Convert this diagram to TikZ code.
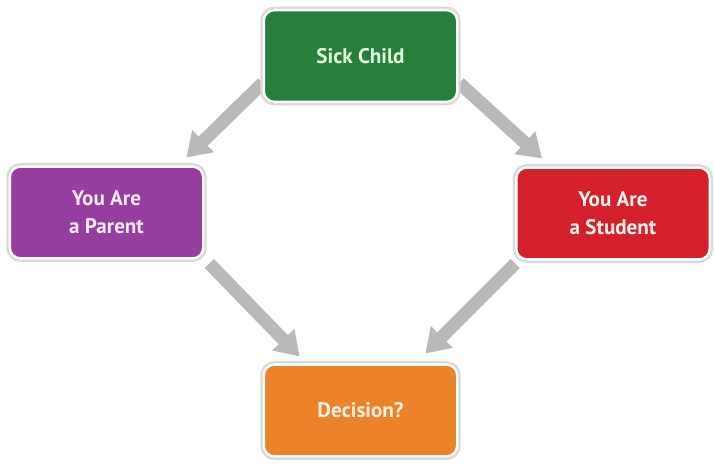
\documentclass[tikz,border=0pt]{standalone}
\usepackage{fontspec}
\setmainfont{PT Sans}
\usetikzlibrary{arrows.meta,positioning,calc,backgrounds}
\definecolor{sickgreen}{RGB}{38,128,60}
\definecolor{parentpurple}{RGB}{150,62,160}
\definecolor{studentred}{RGB}{212,32,42}
\definecolor{decisionorange}{RGB}{236,130,42}
\tikzset{
    box/.style={
        rectangle,
        rounded corners=9pt,
        draw=white,
        line width=2pt,
        preaction={draw=gray!30, line width=6pt},
        minimum width=5.8cm,
        minimum height=2.75cm,
        align=center,
        font=\fontsize{18}{24}\selectfont\bfseries,
    },
    flow/.style={
        draw=gray!55,
        line width=11pt,
        -{Triangle[width=25pt,length=20pt]},
    },
}

\begin{document}
\begin{tikzpicture}[x=0.03cm,y=-0.03cm]
    \useasboundingbox (0,0) rectangle (714,468);

    % Nodes and position definitions
    \node [box, fill=sickgreen, text=green!10] (sick) at (360.5,56) {Sick Child};
    \node [box, fill=parentpurple, text=magenta!8] (parent) at (106.5,212.5) {You Are\\a Parent};
    \node [box, fill=studentred, text=red!5] (student) at (613,213.5) {You Are\\a Student};
    \node [box, fill=decisionorange, text=orange!10] (decision) at (360.5,410.5) {Decision?};

    % Arrows, under the boxes
    \begin{scope}[on background layer]
        \draw[flow] ([shift={(0,-20)}]sick.south west) -- ([shift={(-18,-8)}]parent.north east);
        \draw[flow] ([shift={(1,-20)}]sick.south east) -- ([shift={(27,-8)}]student.north west);
        \draw[flow] ([shift={(5,4)}]parent.south east) -- ([shift={(37,-7)}]decision.north west);
        \draw[flow] ([shift={(0,3)}]student.south west) -- ([shift={(-33,-10)}]decision.north east);
    \end{scope}
\end{tikzpicture}
\end{document}
